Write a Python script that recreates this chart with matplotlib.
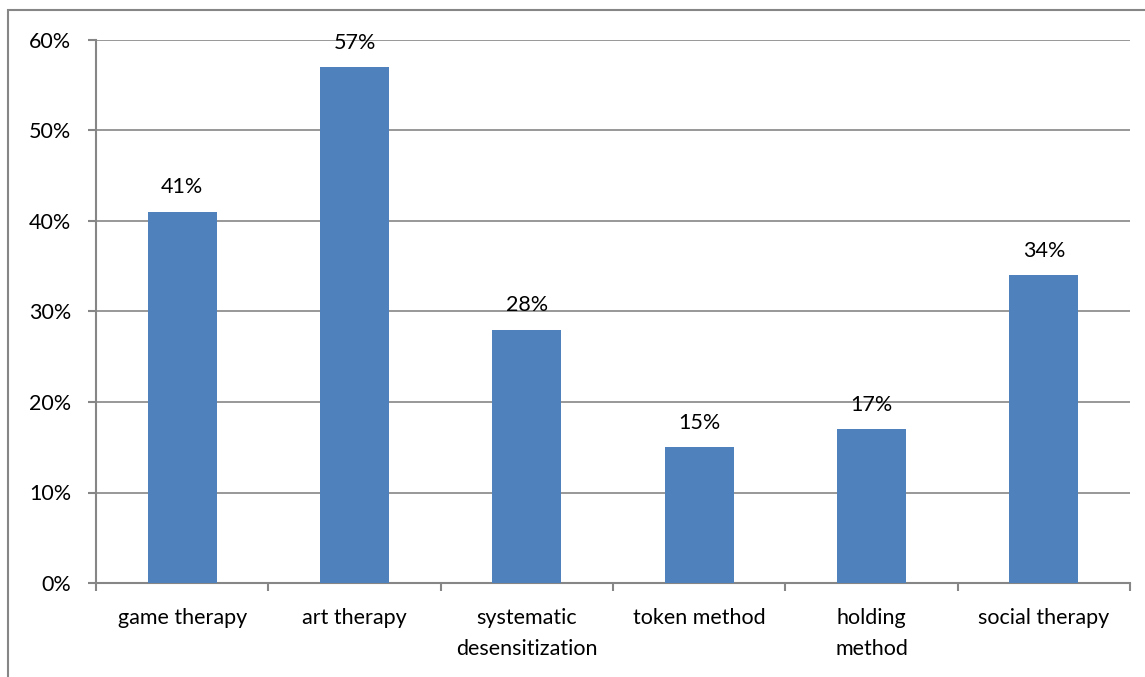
import matplotlib
matplotlib.use("Agg")
import matplotlib.pyplot as plt
from matplotlib.patches import Rectangle

categories = ["game therapy", "art therapy", "systematic\ndesensitization",
              "token method", "holding\nmethod", "social therapy"]
values = [41, 57, 28, 15, 17, 34]
yticks = [0, 10, 20, 30, 40, 50, 60]
ytick_labels = ["0%", "10%", "20%", "30%", "40%", "50%", "60%"]

plt.rcParams['font.family'] = ['Lato', 'DejaVu Sans']

W, H = 1145, 677
fig = plt.figure(figsize=(W / 100, H / 100), dpi=100)
ax = fig.add_axes([96 / W, 1 - 583 / H, (1130 - 96) / W, (583 - 40) / H])

grid_color = "#868686"
bar_color = "#4F81BD"
fs = 15.5

x = list(range(len(categories)))
ax.bar(x, values, width=0.4, color=bar_color, zorder=3)
ax.set_xlim(-0.5, len(categories) - 0.5)
ax.set_ylim(0, 60)
ax.set_yticks(yticks)
ax.set_yticklabels(ytick_labels, fontsize=fs)
ax.set_xticks(x)
ax.set_xticklabels(categories, fontsize=fs, linespacing=1.7)
ax.tick_params(axis='x', length=0, pad=18)
ax.tick_params(axis='y', length=6, color=grid_color, width=1.5, pad=12)
ax.set_xticks([i - 0.5 for i in range(len(categories) + 1)], minor=True)
ax.tick_params(axis='x', which='minor', length=6, color=grid_color, width=1.5, direction='out')

ax.yaxis.grid(True, color=grid_color, linewidth=1.2, zorder=0)
for s in ["top", "right"]:
    ax.spines[s].set_visible(False)
for s in ["left", "bottom"]:
    ax.spines[s].set_color(grid_color)
    ax.spines[s].set_linewidth(1.5)

for xi, v in zip(x, values):
    ax.annotate(f"{v}%", (xi, v), xytext=(0, 10.5), textcoords="offset points",
                ha="center", va="bottom", fontsize=fs, zorder=4)

fig.patches.append(Rectangle((8 / W, -0.1), 1.2, 1 - 10 / H + 0.1,
                             transform=fig.transFigure, fill=False,
                             edgecolor=grid_color, linewidth=1.5))

fig.savefig("out.png", dpi=100)
